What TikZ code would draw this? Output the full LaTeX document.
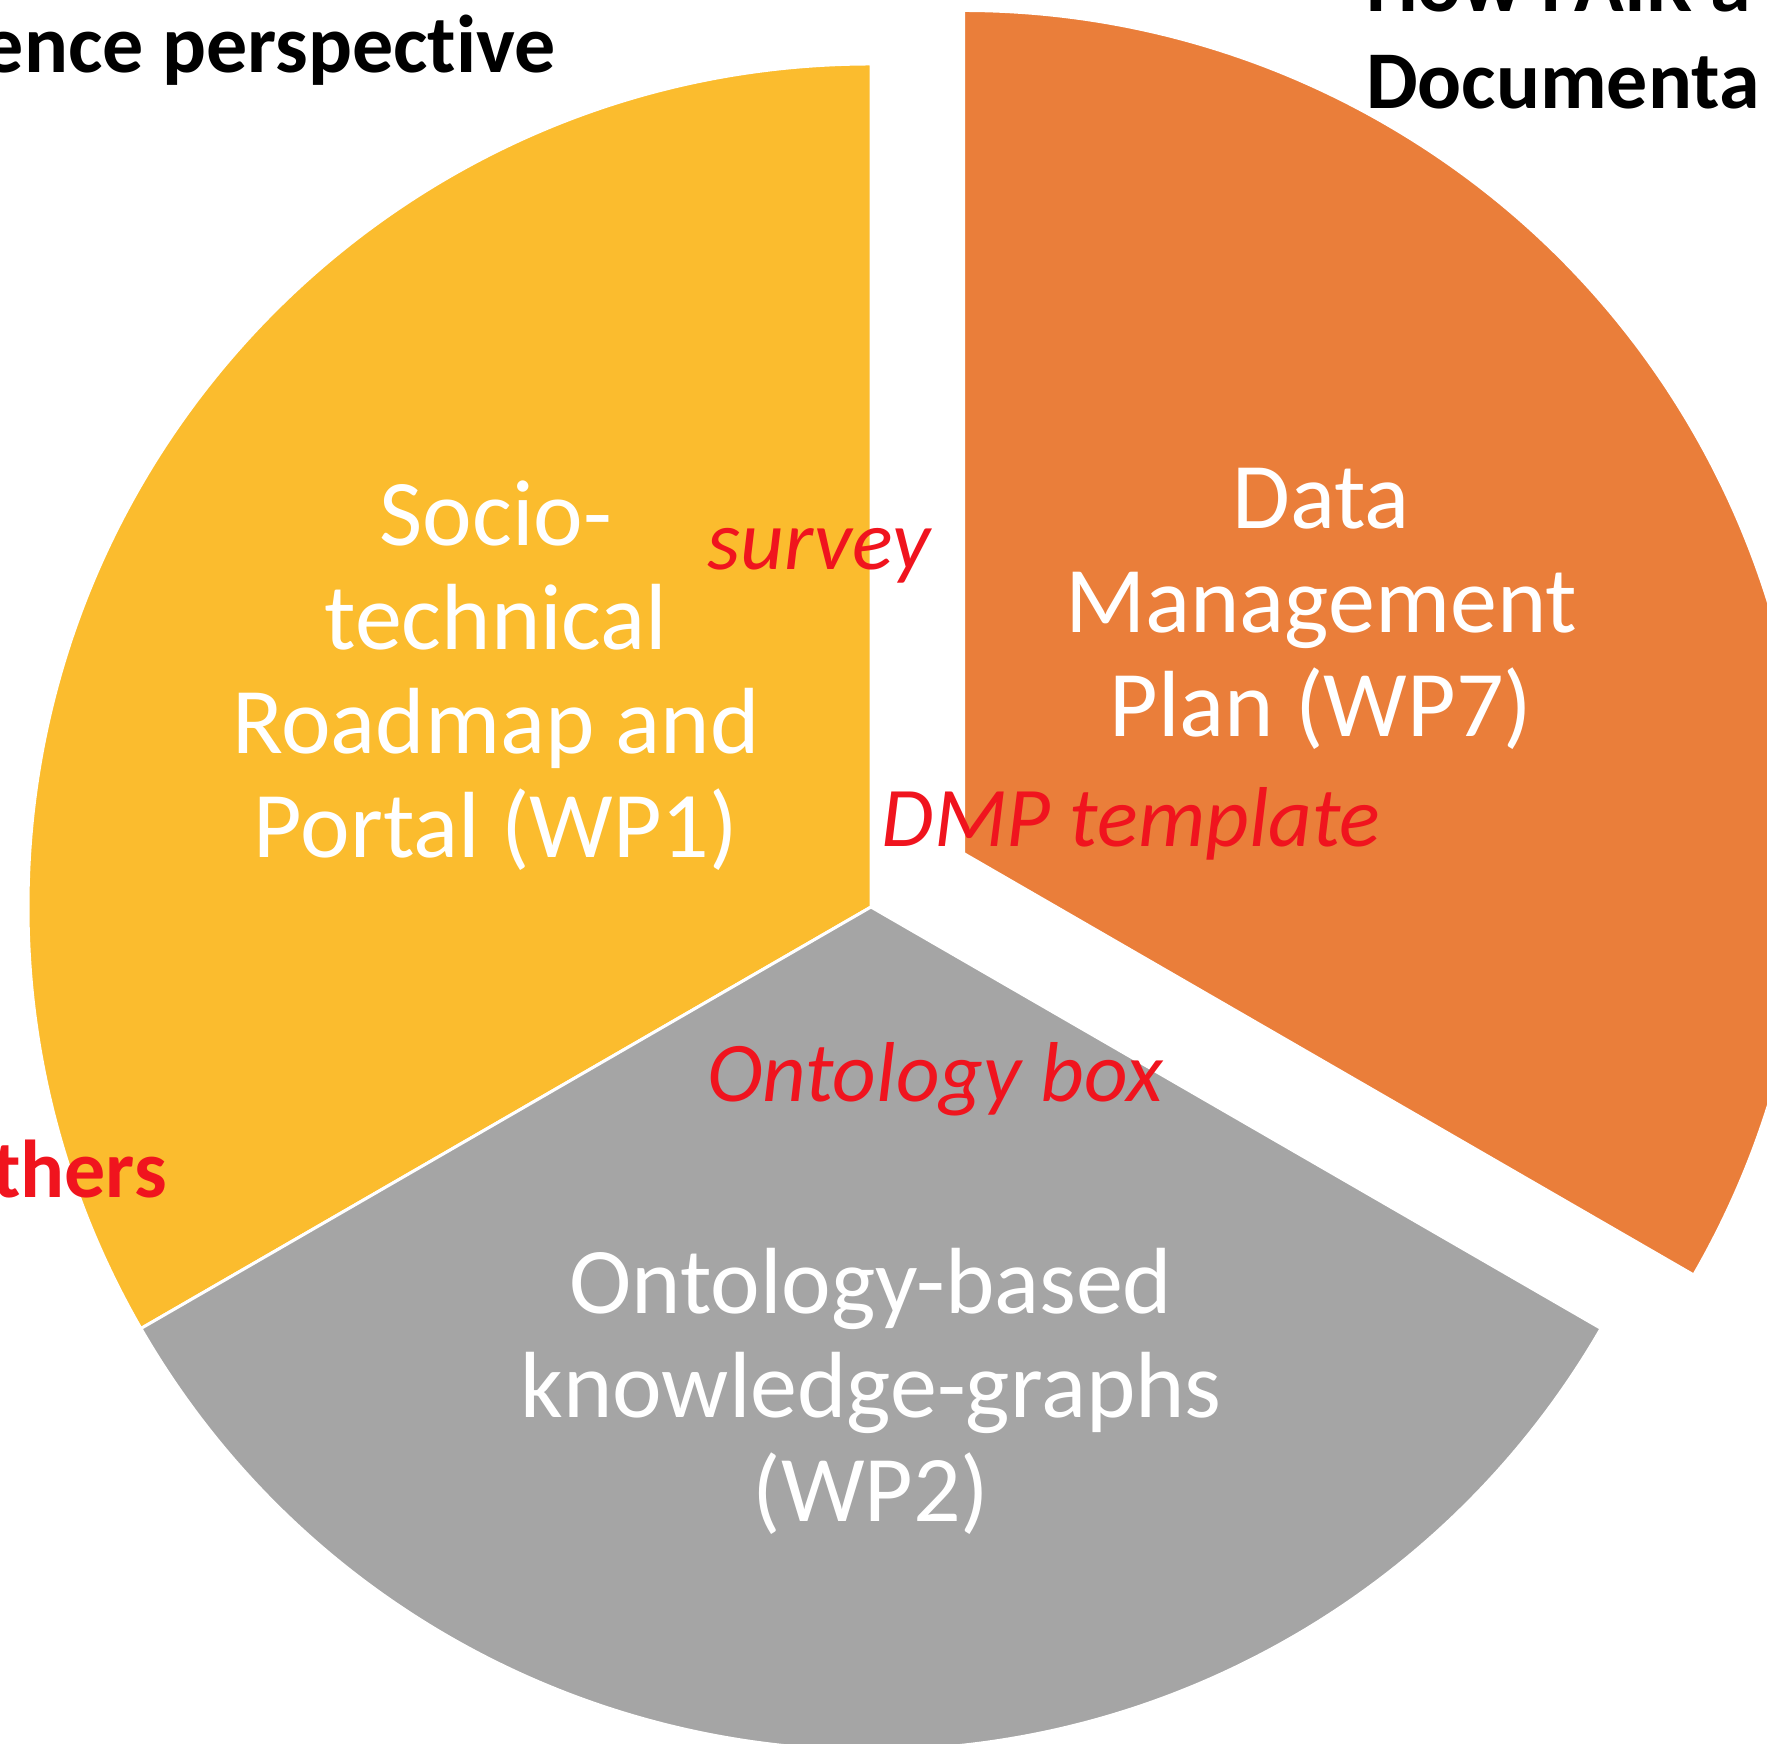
\documentclass[tikz,border=0pt]{standalone}
\usepackage{fontspec}
\setmainfont{Carlito}[Ligatures=NoCommon]
\usetikzlibrary{positioning}

\definecolor{wpyellow}{RGB}{251,188,46}
\definecolor{wporange}{RGB}{234,126,58}
\definecolor{wpgray}{RGB}{165,165,165}
\definecolor{hintred}{RGB}{240,20,30}

\begin{document}
\begin{tikzpicture}[x=1pt,y=1pt,
  slice/.style={draw=white,line width=3pt},
  wplabel/.style={text=white,align=center,font=\fontsize{94}{104}\selectfont},
  hint/.style={text=hintred,font=\fontsize{85}{100}\selectfont\itshape,inner sep=0pt},
  heading/.style={font=\fontsize{82}{97}\selectfont\bfseries,inner sep=0pt}]
\useasboundingbox (0,0) rectangle (1767,1743);
\clip (0,0) rectangle (1767,1743);
\coordinate (c) at (871,836);
\coordinate (o) at ([shift={(30:107)}]c);
% the three slices
\path[slice,fill=wpyellow] (c) -- ++(90:843) arc (90:210:843) -- cycle;
\path[slice,fill=wpgray] (c) -- ++(210:843) arc (210:330:843) -- cycle;
\path[slice,fill=wporange] (o) -- ++(-30:843) arc (-30:90:843) -- cycle;
% work packages
\node[wplabel] (wp1) at (496,1067) {Socio-\\technical\\Roadmap and\\Portal (WP1)};
\node[wplabel] (wp7) at (1321,1134) {Data\\Management\\Plan (WP7)};
\node[wplabel] (wp2) at (871,352) {Ontology-based\\knowledge-graphs\\(WP2)};
% outputs
\node[hint,anchor=base] (survey) at (819,1173) {survey};
\node[hint,anchor=base] (dmp) at (1131,896) {DMP template};
\node[hint,anchor=base] (onto) at (935,641) {Ontology box};
% cut-off slide text
\node[heading,anchor=base east] (persp) at (556,1670) {ence perspect\kern0pt ive};
\node[heading,anchor=base west] (howfair) at (1366,1731) {How FAIR a};
\node[heading,anchor=base west] (docu) at (1366,1634) {Documenta};
\node[heading,text=hintred,anchor=base east] (others) at (167,545) {thers};
\end{tikzpicture}
\end{document}
